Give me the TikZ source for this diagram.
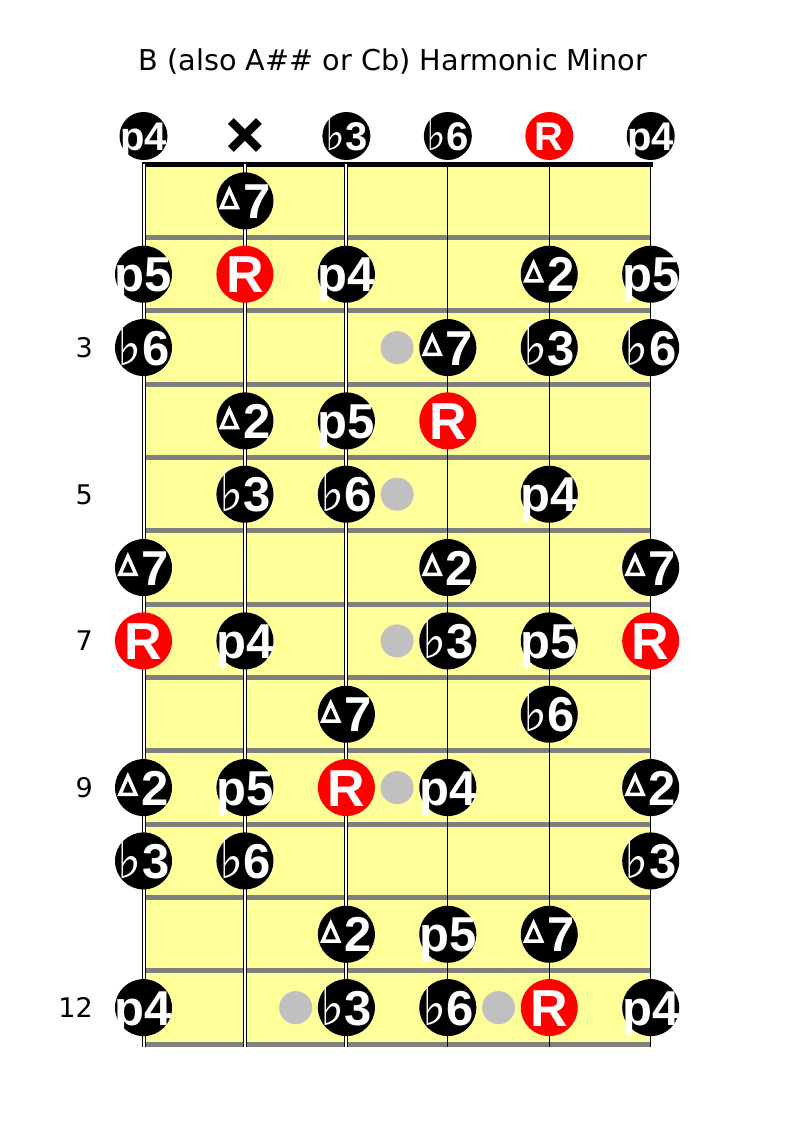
\documentclass[tikz,border=0pt]{standalone}
\usepackage{fontspec}
\usepackage{graphicx}
\setmainfont{Liberation Sans}
\newfontfamily\vfont{DejaVu Sans}
\newfontfamily\flatfont{DejaVu Sans Bold}
\definecolor{board}{RGB}{255,255,153}
\definecolor{fretgray}{RGB}{128,128,128}
\definecolor{markgray}{RGB}{192,192,192}
\newcommand{\myflat}{\raisebox{0pt}{\scalebox{1.05}[1.2]{\flatfont ♭}}}
\newcommand{\mytri}{\raisebox{9pt}{\tikz[x=1pt,y=1pt]{\draw[white,line width=3.5pt,line join=miter] (0,0) -- (16,0) -- (8,18) -- cycle;}}\hspace{4pt}}
\tikzset{
  note/.style={circle, fill=black, minimum size=57pt, inner sep=0pt},
  root/.style={note, fill=red},
  onote/.style={note, minimum size=48pt},
  oroot/.style={onote, fill=red},
  lbl/.style={text=white, font=\bfseries\fontsize{49}{49}\selectfont, inner sep=0pt, text height=35pt, text depth=0pt},
  lblR/.style={lbl, font=\bfseries\fontsize{52}{52}\selectfont, text height=37pt},
  olbl/.style={lbl, font=\bfseries\fontsize{40}{40}\selectfont, text height=28pt},
  olblR/.style={lbl, font=\bfseries\fontsize{40}{40}\selectfont, text height=28pt},
  marker/.style={circle, fill=markgray, minimum size=33pt, inner sep=0pt},
  fretline/.style={line width=5pt, fretgray},
  wound/.style={line width=1pt, double=white, double distance=2pt},
  plain/.style={line width=1.3pt},
  xmark/.style={line width=8pt},
  fretnum/.style={font=\vfont\fontsize{27}{27}\selectfont, inner sep=0pt, anchor=base east}
}
\begin{document}
\begin{tikzpicture}[x=1pt,y=-1pt]
\useasboundingbox (0,0) rectangle (792,1122);
% board
\fill[board] (143.5,164.2) rectangle (650.7,1044.3);
\foreach \k in {1,...,12} {
  \pgfmathsetmacro\yy{164.2+\k*73.34}
  \coordinate (fl\k) at (143.5,\yy);
  \coordinate (fr\k) at (650.7,\yy);
  \draw[fretline] (fl\k) -- (fr\k);
}
% nut
\coordinate (nutl) at (141.5,164.2);
\coordinate (nutr) at (652.7,164.2);
\draw[line width=5pt] (nutl) -- (nutr);
% strings
\foreach \si in {1,...,6} {
  \pgfmathsetmacro\xx{143.5+(\si-1)*101.44}
  \coordinate (st\si) at (\xx,164.2);
  \coordinate (sb\si) at (\xx,1046.8);
}
\foreach \si in {1,2,3} { \draw[wound] (st\si) -- (sb\si); }
\foreach \si in {4,5,6} { \draw[plain] (st\si) -- (sb\si); }
% fret markers
\foreach \ms/\mf [count=\i] in {3.5/3, 3.5/5, 3.5/7, 3.5/9, 2.5/12, 4.5/12} {
  \pgfmathsetmacro\xx{143.5+(\ms-1)*101.44}
  \pgfmathsetmacro\yy{164.2+(\mf-0.5)*73.34}
  \node[marker] (m\i) at (\xx,\yy) {};
}
% fretted notes
\foreach \si/\fr/\lab/\sty/\lsty in {
  2/1/\mytri7/note/lbl,
  1/2/p5/note/lbl, 2/2/R/root/lblR, 3/2/p4/note/lbl, 5/2/\mytri2/note/lbl, 6/2/p5/note/lbl,
  1/3/\myflat6/note/lbl, 4/3/\mytri7/note/lbl, 5/3/\myflat3/note/lbl, 6/3/\myflat6/note/lbl,
  2/4/\mytri2/note/lbl, 3/4/p5/note/lbl, 4/4/R/root/lblR,
  2/5/\myflat3/note/lbl, 3/5/\myflat6/note/lbl, 5/5/p4/note/lbl,
  1/6/\mytri7/note/lbl, 4/6/\mytri2/note/lbl, 6/6/\mytri7/note/lbl,
  1/7/R/root/lblR, 2/7/p4/note/lbl, 4/7/\myflat3/note/lbl, 5/7/p5/note/lbl, 6/7/R/root/lblR,
  3/8/\mytri7/note/lbl, 5/8/\myflat6/note/lbl,
  1/9/\mytri2/note/lbl, 2/9/p5/note/lbl, 3/9/R/root/lblR, 4/9/p4/note/lbl, 6/9/\mytri2/note/lbl,
  1/10/\myflat3/note/lbl, 2/10/\myflat6/note/lbl, 6/10/\myflat3/note/lbl,
  3/11/\mytri2/note/lbl, 4/11/p5/note/lbl, 5/11/\mytri7/note/lbl,
  1/12/p4/note/lbl, 3/12/\myflat3/note/lbl, 4/12/\myflat6/note/lbl, 5/12/R/root/lblR, 6/12/p4/note/lbl} {
  \pgfmathsetmacro\xx{143.5+(\si-1)*101.44}
  \pgfmathsetmacro\yy{164.2+(\fr-0.5)*73.34}
  \node[\sty] (n\si-\fr) at (\xx,\yy) {};
  \node[\lsty] (t\si-\fr) at (n\si-\fr) {\lab};
}
% open strings
\foreach \si/\lab/\sty/\lsty in {1/p4/onote/olbl, 3/\myflat3/onote/olbl, 4/\myflat6/onote/olbl, 5/R/oroot/olblR, 6/p4/onote/olbl} {
  \pgfmathsetmacro\xx{143.5+(\si-1)*101.44}
  \node[\sty] (o\si) at (\xx,136) {};
  \node[\lsty] (ot\si) at (o\si) {\lab};
}
\coordinate (o2) at (244.9,135);
\draw[xmark] (o2) +(-14,-14) -- +(14,14);
\draw[xmark] (o2) +(-14,14) -- +(14,-14);
% title
\node[font=\vfont\fontsize{28.7}{28.7}\selectfont, anchor=base, inner sep=0pt] (title) at (393,70) {B (also A\#\# or Cb) Harmonic Minor};
% fret numbers
\foreach \fr in {3,5,7,9,12} {
  \pgfmathsetmacro\yy{164.2+(\fr-0.5)*73.34+10}
  \node[fretnum] (fn\fr) at (93,\yy) {\fr};
}
\end{tikzpicture}
\end{document}
